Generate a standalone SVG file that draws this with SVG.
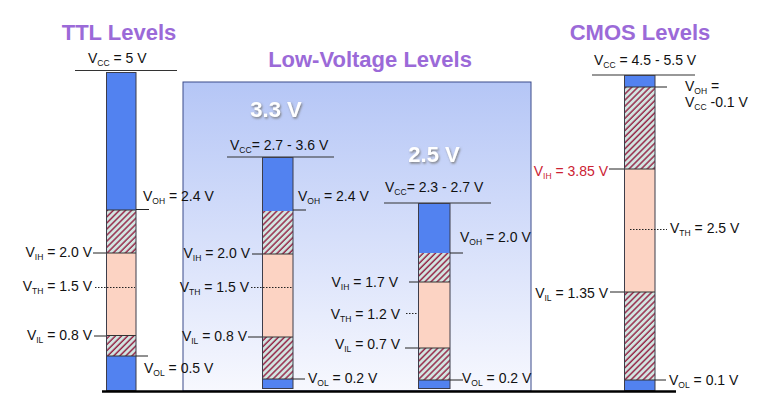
<svg xmlns="http://www.w3.org/2000/svg" width="764" height="399" viewBox="0 0 764 399">
<style>
.t{font-family:"Liberation Sans",Arial,sans-serif;font-size:14px;fill:#111}
.s{font-size:8.5px}
.ttl{font-family:"Liberation Sans",Arial,sans-serif;font-size:22px;font-weight:bold;fill:#9B6AD8}
.big{font-family:"Liberation Sans",Arial,sans-serif;font-size:22px;font-weight:bold;fill:#fff;filter:url(#sh)}
.blue{fill:#5282F0}
.pink{fill:#FCD3C3}
.hatch{fill:url(#hp)}
.out{fill:none;stroke:#3d3d4a;stroke-width:1}
.seg{stroke:#333;stroke-width:1}
.tick{stroke:#222;stroke-width:1;fill:none}
.dot{stroke:#222;stroke-width:1;stroke-dasharray:1.5 1.5;fill:none}
.vcc{stroke:#333;stroke-width:1.2}
</style>
<defs>
<pattern id="hp" patternUnits="userSpaceOnUse" width="4.3" height="4.3" patternTransform="rotate(45)">
<rect width="4.3" height="4.3" fill="#D2E6E2"/>
<line x1="1" y1="0" x2="1" y2="4.3" stroke="#962848" stroke-width="1.5"/>
</pattern>
<linearGradient id="bg" x1="0" y1="0" x2="0" y2="1">
<stop offset="0" stop-color="#B5C6F6"/>
<stop offset="1" stop-color="#F7F8FE"/>
</linearGradient>
<filter id="sh" x="-20%" y="-20%" width="140%" height="160%">
<feDropShadow dx="1" dy="1.5" stdDeviation="0.8" flood-color="#777" flood-opacity="0.9"/>
</filter>
</defs>
<rect width="764" height="399" fill="#fff"/>

<g id="lowvoltage-panel">
<rect x="183" y="82" width="348" height="309" fill="url(#bg)" stroke="#3A4A8A" stroke-width="1"/>
<text class="ttl" x="370" y="67" text-anchor="middle">Low-Voltage Levels</text>
</g>

<g id="ttl">
<text class="ttl" x="119" y="40" text-anchor="middle">TTL Levels</text>
<text class="t" x="88" y="63">V<tspan class="s" dy="3">CC</tspan><tspan dy="-3"> = 5 V</tspan></text>
<line class="vcc" x1="75" y1="70.5" x2="177" y2="70.5"/>
<rect class="blue" x="106" y="72" width="30" height="138"/>
<rect class="hatch" x="106" y="210" width="30" height="43"/>
<rect class="pink" x="106" y="253" width="30" height="82"/>
<rect class="hatch" x="106" y="335" width="30" height="21"/>
<rect class="blue" x="106" y="356" width="30" height="34"/>
<line class="seg" x1="106" y1="253" x2="136" y2="253"/>
<line class="seg" x1="106" y1="335.5" x2="136" y2="335.5"/>
<line class="seg" x1="106" y1="356" x2="136" y2="356"/>
<line class="seg" x1="106" y1="210" x2="136" y2="210"/>
<rect class="out" x="106.5" y="72.5" width="29.5" height="318"/>
<text class="t" x="143" y="201">V<tspan class="s" dy="3">OH</tspan><tspan dy="-3"> = 2.4 V</tspan></text>
<text class="t" x="92" y="257" text-anchor="end">V<tspan class="s" dy="3">IH</tspan><tspan dy="-3"> = 2.0 V</tspan></text>
<text class="t" x="92" y="291" text-anchor="end">V<tspan class="s" dy="3">TH</tspan><tspan dy="-3"> = 1.5 V</tspan></text>
<text class="t" x="92" y="340" text-anchor="end">V<tspan class="s" dy="3">IL</tspan><tspan dy="-3"> = 0.8 V</tspan></text>
<text class="t" x="144" y="373">V<tspan class="s" dy="3">OL</tspan><tspan dy="-3"> = 0.5 V</tspan></text>
</g>

<g id="lv33">
<text class="big" x="276" y="117" text-anchor="middle">3.3 V</text>
<text class="t" x="230" y="150">V<tspan class="s" dy="3">CC</tspan><tspan dy="-3">= 2.7 - 3.6 V</tspan></text>
<line class="vcc" x1="227" y1="157" x2="334" y2="157"/>
<rect class="blue" x="262" y="157" width="31" height="54"/>
<rect class="hatch" x="262" y="211" width="31" height="43"/>
<rect class="pink" x="262" y="254" width="31" height="83"/>
<rect class="hatch" x="262" y="337" width="31" height="42"/>
<rect class="blue" x="262" y="379" width="31" height="9"/>
<line class="seg" x1="262" y1="254" x2="293" y2="254"/>
<line class="seg" x1="262" y1="337" x2="293" y2="337"/>
<line class="seg" x1="262" y1="379" x2="293" y2="379"/>
<rect class="out" x="262.5" y="157.5" width="30.5" height="231"/>
<text class="t" x="298" y="201">V<tspan class="s" dy="3">OH</tspan><tspan dy="-3"> = 2.4 V</tspan></text>
<text class="t" x="250" y="258" text-anchor="end">V<tspan class="s" dy="3">IH</tspan><tspan dy="-3"> = 2.0 V</tspan></text>
<text class="t" x="249" y="292" text-anchor="end">V<tspan class="s" dy="3">TH</tspan><tspan dy="-3"> = 1.5 V</tspan></text>
<text class="t" x="247" y="341" text-anchor="end">V<tspan class="s" dy="3">IL</tspan><tspan dy="-3"> = 0.8 V</tspan></text>
<text class="t" x="308" y="383">V<tspan class="s" dy="3">OL</tspan><tspan dy="-3"> = 0.2 V</tspan></text>
</g>

<g id="lv25">
<text class="big" x="434" y="162" text-anchor="middle">2.5 V</text>
<text class="t" x="385" y="192">V<tspan class="s" dy="3">CC</tspan><tspan dy="-3">= 2.3 - 2.7 V</tspan></text>
<line class="vcc" x1="384" y1="203" x2="491" y2="203"/>
<rect class="blue" x="418" y="203" width="32" height="50"/>
<rect class="hatch" x="418" y="253" width="32" height="29"/>
<rect class="pink" x="418" y="282" width="32" height="66"/>
<rect class="hatch" x="418" y="348" width="32" height="32"/>
<rect class="blue" x="418" y="380" width="32" height="8"/>
<line class="seg" x1="418" y1="282" x2="450" y2="282"/>
<line class="seg" x1="418" y1="348" x2="450" y2="348"/>
<line class="seg" x1="418" y1="380" x2="450" y2="380"/>
<rect class="out" x="418.5" y="203.5" width="31.5" height="185"/>
<text class="t" x="460" y="242">V<tspan class="s" dy="3">OH</tspan><tspan dy="-3"> = 2.0 V</tspan></text>
<text class="t" x="398" y="287" text-anchor="end">V<tspan class="s" dy="3">IH</tspan><tspan dy="-3"> = 1.7 V</tspan></text>
<text class="t" x="400" y="319" text-anchor="end">V<tspan class="s" dy="3">TH</tspan><tspan dy="-3"> = 1.2 V</tspan></text>
<text class="t" x="400" y="349" text-anchor="end">V<tspan class="s" dy="3">IL</tspan><tspan dy="-3"> = 0.7 V</tspan></text>
<text class="t" x="462" y="383">V<tspan class="s" dy="3">OL</tspan><tspan dy="-3"> = 0.2 V</tspan></text>
</g>

<g id="cmos">
<text class="ttl" x="640" y="40" text-anchor="middle">CMOS Levels</text>
<text class="t" x="594" y="65">V<tspan class="s" dy="3">CC</tspan><tspan dy="-3"> =  4.5 - 5.5 V</tspan></text>
<line class="vcc" x1="592" y1="75" x2="695" y2="75"/>
<rect class="blue" x="624" y="75" width="31" height="12"/>
<rect class="hatch" x="624" y="87" width="31" height="82"/>
<rect class="pink" x="624" y="169" width="31" height="123"/>
<rect class="hatch" x="624" y="292" width="31" height="88"/>
<rect class="blue" x="624" y="380" width="31" height="10"/>
<line class="seg" x1="624" y1="87" x2="655" y2="87"/>
<line class="seg" x1="624" y1="169" x2="655" y2="169"/>
<line class="seg" x1="624" y1="292" x2="655" y2="292"/>
<line class="seg" x1="624" y1="380" x2="655" y2="380"/>
<rect class="out" x="624.5" y="75.5" width="30.5" height="315"/>
<text class="t" x="685" y="91">V<tspan class="s" dy="3">OH</tspan><tspan dy="-3"> =</tspan></text>
<text class="t" x="685" y="107">V<tspan class="s" dy="3">CC</tspan><tspan dy="-3"> -0.1 V</tspan></text>
<text class="t" x="608" y="176" text-anchor="end" style="fill:#CC2233">V<tspan class="s" dy="3">IH</tspan><tspan dy="-3"> = 3.85 V</tspan></text>
<text class="t" x="670" y="233">V<tspan class="s" dy="3">TH</tspan><tspan dy="-3"> = 2.5 V</tspan></text>
<text class="t" x="608" y="298" text-anchor="end">V<tspan class="s" dy="3">IL</tspan><tspan dy="-3"> = 1.35 V</tspan></text>
<text class="t" x="669" y="385">V<tspan class="s" dy="3">OL</tspan><tspan dy="-3"> = 0.1 V</tspan></text>
</g>

<g id="connectors">
<line class="tick" x1="136" y1="209.5" x2="149" y2="209.5"/>
<line class="tick" x1="93" y1="253" x2="106" y2="253"/>
<line class="dot" x1="95" y1="287.5" x2="135" y2="287.5"/>
<line class="tick" x1="94" y1="336" x2="106" y2="336"/>
<line class="tick" x1="136" y1="356" x2="148" y2="356"/>

<line class="tick" x1="293" y1="210" x2="306" y2="210"/>
<line class="tick" x1="252" y1="254" x2="262" y2="254"/>
<line class="dot" x1="251" y1="287.5" x2="292" y2="287.5"/>
<line class="tick" x1="248" y1="337" x2="262" y2="337"/>
<line class="tick" x1="293" y1="379" x2="305" y2="379"/>

<line class="tick" x1="450" y1="253" x2="463" y2="253"/>
<line class="tick" x1="409" y1="282" x2="418" y2="282"/>
<line class="dot" x1="406" y1="313.5" x2="418" y2="313.5"/>
<line class="tick" x1="405" y1="348" x2="418" y2="348"/>
<line class="tick" x1="450" y1="380" x2="463" y2="380"/>

<line class="tick" x1="655" y1="87" x2="667" y2="87"/>
<line class="tick" x1="609" y1="169" x2="624" y2="169"/>
<line class="dot" x1="630" y1="229.5" x2="667" y2="229.5"/>
<line class="tick" x1="610" y1="292" x2="624" y2="292"/>
<line class="tick" x1="655" y1="380" x2="666" y2="380"/>

<line x1="102" y1="391.5" x2="676" y2="391.5" stroke="#000" stroke-width="2.5"/>
</g>
</svg>
